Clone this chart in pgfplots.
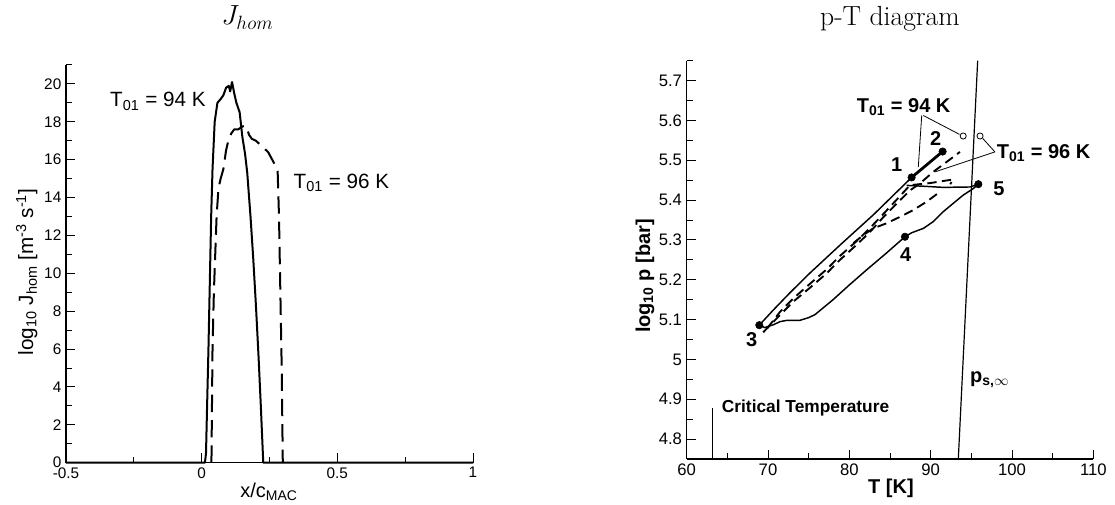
\documentclass[border=0pt]{standalone}
\usepackage{fontspec}
\setsansfont{Liberation Sans}
\usepackage{pgfplots}
\pgfplotsset{compat=1.18}

\pgfplotsset{
  jaxis/.style={
    scale only axis, anchor=south west, clip=false,
    axis x line*=bottom, axis y line*=left,
    axis line style={line width=0.9pt, -},
    tick align=inside, major tick length=7pt, minor tick length=4.5pt,
    tick style={line width=0.7pt, black},
    /pgf/number format/assume math mode=true,
  },
}

\begin{document}
\begin{tikzpicture}
\path[use as bounding box] (0,0) rectangle (836.25pt,378pt);

% left: nucleation rate
\begin{axis}[jaxis,
  at={(49.5pt,30.975pt)}, width=305.25pt, height=298.3pt,
  xmin=-0.5, xmax=1, ymin=0, ymax=21,
  xtick={-0.5,0,0.5,1}, minor xtick={-0.25,0.25,0.75},
  ytick={0,2,...,20}, minor ytick={1,3,...,21},
  ticklabel style={font=\sffamily\fontsize{11.5}{13}\selectfont},
]
% T01 = 94 K
\addplot[black, line width=1.5pt, line join=round] coordinates {
  (-0.5,0) (0.012,0) (0.016,0.5) (0.02,3) (0.025,6) (0.03,9.5) (0.035,13)
  (0.04,15.5) (0.048,18) (0.058,19) (0.07,19.2) (0.08,19.4) (0.09,19.8)
  (0.1,19.9) (0.105,19.6) (0.112,20.1) (0.12,19.5) (0.128,19) (0.14,18.5)
  (0.15,17.2) (0.16,16.3) (0.168,15.3) (0.18,13) (0.19,10.8) (0.2,8.3)
  (0.21,5.5) (0.218,3) (0.227,0) (1,0)
};
% T01 = 96 K
\addplot[black, line width=1.5pt, line join=round, dash pattern=on 13pt off 6pt] coordinates {
  (0.036,0) (0.038,3) (0.04,6) (0.045,9) (0.05,11) (0.055,13) (0.062,14.5)
  (0.07,15) (0.08,15.5) (0.09,16.5) (0.1,17.1) (0.11,17.4) (0.12,17.6)
  (0.135,17.6) (0.15,17.75) (0.16,17.8) (0.168,17.6) (0.175,17.3)
  (0.185,17.1) (0.2,17.0) (0.215,16.8) (0.23,16.6) (0.245,16.4) (0.26,16.0)
  (0.275,15.6) (0.28,15.4) (0.285,13) (0.295,5) (0.299,0)
};
\node[anchor=base west, inner sep=0pt, font=\sffamily\fontsize{15.5}{18}\selectfont]
  at (axis cs:-0.338,18.8) {T\textsubscript{01} = 94 K};
\node[anchor=base west, inner sep=0pt, font=\sffamily\fontsize{15.5}{18}\selectfont]
  at (axis cs:0.338,14.5) {T\textsubscript{01} = 96 K};
\end{axis}

% right: p-T diagram
\begin{axis}[jaxis,
  at={(515pt,33.75pt)}, width=305pt, height=298.7pt,
  xmin=60, xmax=110, ymin=4.75, ymax=5.75,
  xtick={60,70,...,110}, minor xtick={65,75,...,105},
  ytick={4.8,4.9,5,5.1,5.2,5.3,5.4,5.5,5.6,5.7},
  minor ytick={4.75,4.85,4.95,5.05,5.15,5.25,5.35,5.45,5.55,5.65,5.75},
  ticklabel style={font=\sffamily\fontsize{12.5}{14}\selectfont},
]
% critical temperature
\addplot[black, line width=0.8pt] coordinates {(63.15,4.75) (63.15,4.877)};
% saturation pressure
\addplot[black, line width=0.9pt] coordinates {(93.4,4.75) (95.78,5.75)};
% T01 = 94 K, 3 -> 1
\addplot[black, line width=1.1pt, line join=round] coordinates {
  (68.93,5.086) (70.65,5.124) (72.73,5.168) (75.16,5.217)
  (78.85,5.287) (83,5.364) (87.66,5.457)
};
% 1 -> 2
\addplot[black, line width=2.1pt] coordinates {(87.66,5.457) (91.47,5.522)};
% 3 -> 4 -> 5 -> back
\addplot[black, line width=1.1pt, line join=round] coordinates {
  (68.93,5.086) (69.6,5.08) (70.65,5.087) (71.5,5.095) (72.3,5.098)
  (73.9,5.098) (75.0,5.105) (75.78,5.1125) (78,5.15) (80,5.187)
  (82.13,5.225) (84.5,5.266) (86.84,5.308) (87.66,5.318) (89.1,5.329)
  (90.32,5.346) (91.55,5.371) (92.78,5.392) (94.0,5.4125) (95.24,5.429)
  (95.86,5.44) (94.83,5.433) (91.55,5.432) (89,5.435) (87.05,5.437)
};
% T01 = 96 K
\addplot[black, line width=1.4pt, dash pattern=on 7pt off 4pt] coordinates {
  (69.4,5.068) (71.5,5.112) (73.1,5.145) (75.16,5.18) (77.2,5.216)
  (78.85,5.25) (80.9,5.288) (82.54,5.32) (84.17,5.357) (86.0,5.395)
  (87.5,5.425) (88.69,5.442) (90.32,5.471) (91.97,5.496) (93.6,5.521)
};
\addplot[black, line width=1.4pt, dash pattern=on 7pt off 4pt] coordinates {
  (69.9,5.078) (71.5,5.12) (73.1,5.153) (75.16,5.19) (77.2,5.226)
  (78.85,5.26) (80.9,5.297) (82.54,5.33) (84.17,5.365) (86.0,5.405)
  (87.46,5.4375) (90,5.443) (92.78,5.452) (92.4,5.44)
};
\addplot[black, line width=1.4pt, dash pattern=on 7pt off 4pt] coordinates {
  (80.5,5.292) (81.7,5.312) (82.94,5.329) (84.59,5.342) (86.23,5.358)
  (87.86,5.375) (89.5,5.396) (91.15,5.421)
};
% leader lines
\addplot[black, line width=0.6pt] coordinates {(88.9,5.6125) (88.48,5.483)};
\addplot[black, line width=0.6pt] coordinates {(89.1,5.6125) (93.55,5.565)};
\addplot[black, line width=0.6pt] coordinates {(97.9,5.521) (96.4,5.555)};
\addplot[black, line width=0.6pt] coordinates {(97.9,5.521) (90.53,5.471)};
% states
\addplot[only marks, mark=*, mark size=2.8pt, black] coordinates {
  (87.66,5.457) (91.47,5.522) (68.93,5.086) (86.84,5.308) (95.86,5.44)
};
\addplot[only marks, mark=o, mark size=2.3pt, black, mark options={line width=0.6pt, fill=white}] coordinates {
  (94.0,5.561) (96.07,5.561)
};
\begin{scope}[font=\sffamily\bfseries\fontsize{15}{18}\selectfont, inner sep=0pt]
\node[anchor=base west] at (axis cs:80.9,5.621) {T\textsubscript{01} = 94 K};
\node[anchor=base west] at (axis cs:98.1,5.504) {T\textsubscript{01} = 96 K};
\node[anchor=base] at (axis cs:85.82,5.471) {1};
\node[anchor=base] at (axis cs:90.63,5.5375) {2};
\node[anchor=base] at (axis cs:68.0,5.033) {3};
\node[anchor=base] at (axis cs:86.94,5.246) {4};
\node[anchor=base] at (axis cs:98.4,5.4125) {5};
\node[anchor=base west] at (axis cs:94.83,4.942) {p\textsubscript{s,$\infty$}};
\end{scope}
\node[anchor=base west, inner sep=0pt, font=\sffamily\bfseries\fontsize{13}{15}\selectfont]
  at (axis cs:64.3,4.868) {Critical Temperature};
\end{axis}

% titles and axis labels, placed in picture pixels
\begin{scope}[x=0.75pt, y=-0.75pt, yshift=378pt, inner sep=0pt]
\node[anchor=base, font=\huge] at (247.5,25) {$J_{hom}$};
\node[anchor=base, font=\huge] at (890,26) {p-T diagram};
\node[anchor=base, font=\sffamily\fontsize{15}{18}\selectfont] at (269,497) {x/c\textsubscript{MAC}};
\node[anchor=base, rotate=90, font=\sffamily\fontsize{15.5}{18}\selectfont] at (33,272)
  {log\textsubscript{10} J\textsubscript{hom} [m\textsuperscript{-3} s\textsuperscript{-1}]};
\node[anchor=base, font=\sffamily\bfseries\fontsize{15}{18}\selectfont] at (891,493) {T [K]};
\node[anchor=base, rotate=90, font=\sffamily\bfseries\fontsize{15}{18}\selectfont] at (650,276)
  {log\textsubscript{10} p [bar]};
\end{scope}
\end{tikzpicture}
\end{document}
